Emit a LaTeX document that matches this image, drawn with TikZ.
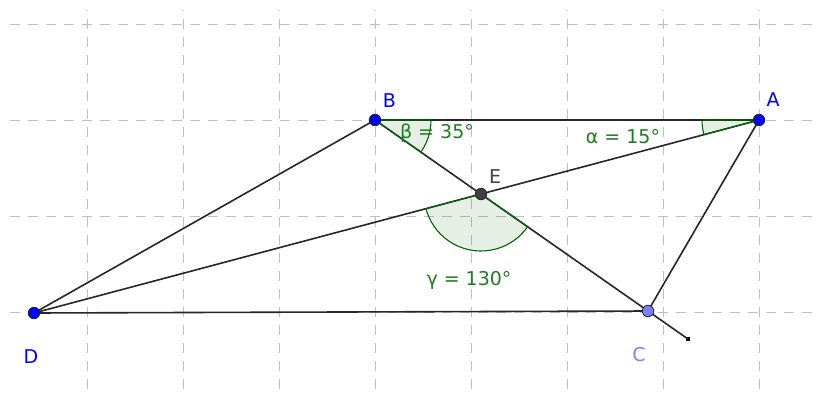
\documentclass[tikz,border=0pt]{standalone}
\usepackage{fontspec}
\setmainfont{DejaVu Sans}
\definecolor{anggreen}{RGB}{0,100,0}
\definecolor{angtext}{RGB}{30,125,30}
\definecolor{ptblue}{RGB}{0,0,255}
\definecolor{ptlight}{RGB}{125,125,255}
\definecolor{ptgray}{RGB}{64,64,64}
\begin{document}
\begin{tikzpicture}[x=1pt,y=-1pt,
  gridline/.style={draw=black!25, line width=1pt, dash pattern=on 10pt off 8pt},
  seg/.style={draw=black!85, line width=1.6pt},
  ptdot/.style={circle, draw=black!85, line width=0.8pt, minimum size=11.5pt, inner sep=0pt},
  angsec/.style={draw=anggreen, line width=1.1pt, fill=anggreen, fill opacity=0.1},
  lab/.style={font=\fontsize{19}{22}\selectfont, inner sep=0pt, anchor=base},
  anglab/.style={lab, text=angtext}]
\useasboundingbox (0,0) rectangle (817,394);
% grid
\foreach \x in {87,183,279,375,471,567,663,759}
  \draw[gridline, dash phase=9pt] (\x,10) -- (\x,394);
\foreach \y in {24,120,216,312}
  \draw[gridline, dash phase=16pt] (8,\y) -- (817,\y);
% points
\coordinate (A) at (759,120);
\coordinate (B) at (375,120);
\coordinate (C) at (648,311);
\coordinate (D) at (34,313);
\coordinate (E) at (481,194);
\node[fill=black, minimum size=4.5pt, inner sep=0pt] (F) at (688,339) {};
% segments
\draw[seg] (D) -- (B);
\draw[seg] (D) -- (A);
\draw[seg] (D) -- (C);
\draw[seg] (A) -- (C);
\draw[seg] (B) -- (A);
\draw[seg] (B) -- (F.center);
% angles
\path[angsec] (B) -- ++(0:56) arc[start angle=0, end angle=35, radius=56] -- cycle;
\path[angsec] (A) -- ++(165.1:57) arc[start angle=165.1, end angle=180, radius=57] -- cycle;
\path[angsec] (E) -- ++(35:57) arc[start angle=35, end angle=165.1, radius=57] -- cycle;
% angle labels
\node[anglab] (lb) at (437,138) {β = 35°};
\node[anglab] (la) at (623,143) {α = 15°};
\node[anglab] (lg) at (469,285.7) {γ = 130°};
% point dots
\node[ptdot, fill=ptblue] (pA) at (A) {};
\node[ptdot, fill=ptblue] (pB) at (B) {};
\node[ptdot, fill=ptlight] (pC) at (C) {};
\node[ptdot, fill=ptblue] (pD) at (D) {};
\node[ptdot, fill=ptgray] (pE) at (E) {};
% point labels
\node[lab, text=ptblue] (tA) at (773,106.7) {A};
\node[lab, text=ptblue] (tB) at (389.5,107) {B};
\node[lab, text=ptlight] (tC) at (639,361) {C};
\node[lab, text=ptblue] (tD) at (31,363) {D};
\node[lab, text=ptgray] (tE) at (495,183) {E};
\end{tikzpicture}
\end{document}
